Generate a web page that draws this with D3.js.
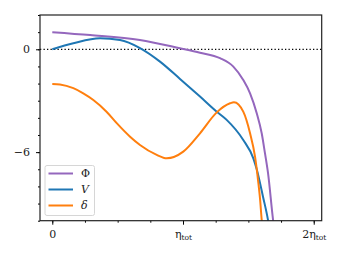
<!DOCTYPE html>
<html>
<head>
<meta charset="utf-8">
<script src="https://cdn.jsdelivr.net/npm/d3@7"></script>
<style>
  body { margin: 0; background: #fff; }
  svg { display: block; }
</style>
</head>
<body>
<script>
"use strict";

// curves, x in units of eta_tot
const phiX = [0, 0.29, 0.67, 0.977, 1.13, 1.283, 1.385, 1.461, 1.513, 1.564, 1.602, 1.627, 1.65, 1.689, 1.70];
const phiY = [1.0, 0.83, 0.54, 0.06, -0.2, -0.52, -1.01, -1.79, -2.57, -3.73, -4.9, -6.06, -7.2, -9.95, -10.6];

const vX = [0, 0.161, 0.365, 0.518, 0.671, 0.824, 0.977, 1.13, 1.258, 1.334, 1.461, 1.538, 1.564, 1.612, 1.65, 1.66];
const vY = [0, 0.35, 0.64, 0.54, 0.07, -0.72, -1.73, -2.76, -3.64, -4.12, -5.29, -6.36, -7.0, -8.6, -9.95, -10.4];

const dX = [0, 0.059, 0.161, 0.237, 0.314, 0.415, 0.493, 0.595, 0.671, 0.799, 0.875, 1.002, 1.13, 1.258, 1.36, 1.39, 1.461, 1.513, 1.551, 1.575, 1.59, 1.602, 1.61];
const dY = [-2.02, -2.05, -2.27, -2.57, -2.96, -3.64, -4.31, -5.1, -5.58, -6.16, -6.36, -5.97, -4.9, -3.68, -3.15, -3.09, -3.64, -4.9, -6.26, -7.7, -8.79, -9.95, -10.5];

const seriesNames = ["Φ", "V", "δ"];
const seriesColors = ["#9467bd", "#1f77b4", "#ff7f0e"];

const xMajor = [0, 1, 2];
const xLabels = ["0", "η", "2η"];
const yMajor = [0, -6];
const yLabels = ["0", "−6"];

const serif = "'DejaVu Serif', serif";
const width = 341, height = 256;
const margin = {left: 40, top: 15, right: 19.3, bottom: 35.3};

const svg = d3.select("body").append("svg")
    .attr("width", width)
    .attr("height", height);

const x = d3.scaleLinear()
    .domain([-0.094, 2.061])
    .range([margin.left, width - margin.right]);
const y = d3.scaleLinear()
    .domain([-10, 2])
    .range([height - margin.bottom, margin.top]);

svg.append("clipPath").attr("id", "clip")
  .append("rect")
    .attr("x", x.range()[0]).attr("y", y.range()[1])
    .attr("width", x.range()[1] - x.range()[0])
    .attr("height", y.range()[0] - y.range()[1]);

const plot = svg.append("g").attr("clip-path", "url(#clip)");

// zero line
plot.append("line")
    .attr("x1", x.range()[0]).attr("x2", x.range()[1])
    .attr("y1", y(0)).attr("y2", y(0))
    .attr("stroke", "#000")
    .attr("stroke-width", 1.3)
    .attr("stroke-dasharray", "1.3,2.2");

const line = d3.line()
    .x(d => x(d[0]))
    .y(d => y(d[1]))
    .curve(d3.curveMonotoneX);

const series = [
    d3.zip(phiX, phiY),
    d3.zip(vX, vY),
    d3.zip(dX, dY)
];

series.forEach((pts, i) => {
    plot.append("path")
        .datum(pts)
        .attr("fill", "none")
        .attr("stroke", seriesColors[i])
        .attr("stroke-width", 2)
        .attr("d", line);
});

// axes
svg.append("g")
    .attr("transform", `translate(0,${y.range()[0]})`)
    .call(d3.axisBottom(x).tickValues(d3.range(0, 2.01, 0.25)).tickSize(2).tickFormat(""));
svg.append("g")
    .attr("transform", `translate(0,${y.range()[0]})`)
    .call(d3.axisBottom(x).tickValues(xMajor).tickSize(4).tickPadding(6)
        .tickFormat((d, i) => xLabels[i]))
    .attr("font-family", serif)
    .call(g => g.selectAll(".tick text")
        .attr("font-size", 11)
        .attr("fill", "#222")
        .each(function(d, i) {
            if (i > 0) {
                d3.select(this).append("tspan")
                    .attr("font-size", 7.5)
                    .attr("dy", 2)
                    .text("tot");
            }
        }));

svg.append("g")
    .attr("transform", `translate(${x.range()[0]},0)`)
    .call(d3.axisLeft(y).tickValues(d3.range(-10, 2.01, 1)).tickSize(2).tickFormat(""));
svg.append("g")
    .attr("transform", `translate(${x.range()[0]},0)`)
    .call(d3.axisLeft(y).tickValues(yMajor).tickSize(4).tickPadding(6)
        .tickFormat((d, i) => yLabels[i]))
    .attr("font-family", serif)
    .call(g => g.selectAll(".tick text").attr("font-size", 11).attr("fill", "#222"));

svg.selectAll(".domain").remove();

// frame
svg.append("rect")
    .attr("x", x.range()[0]).attr("y", y.range()[1])
    .attr("width", x.range()[1] - x.range()[0])
    .attr("height", y.range()[0] - y.range()[1])
    .attr("fill", "none")
    .attr("stroke", "#222")
    .attr("stroke-width", 1.2);

// legend
const lg = svg.append("g").attr("transform", "translate(45,165.5)");
lg.append("rect")
    .attr("width", 49.5).attr("height", 50)
    .attr("rx", 2)
    .attr("fill", "#fff").attr("fill-opacity", 0.8)
    .attr("stroke", "#d6d6d6").attr("stroke-width", 1);
seriesNames.forEach((name, i) => {
    const row = lg.append("g").attr("transform", `translate(0,${8 + i * 16})`);
    row.append("line")
        .attr("x1", 3.5).attr("x2", 28)
        .attr("stroke", seriesColors[i]).attr("stroke-width", 2);
    row.append("text")
        .attr("x", 36).attr("dy", "0.35em")
        .attr("font-family", serif)
        .attr("font-style", i === 0 ? "normal" : "italic")
        .attr("font-size", 11)
        .attr("fill", "#222")
        .text(name);
});
</script>
</body>
</html>
